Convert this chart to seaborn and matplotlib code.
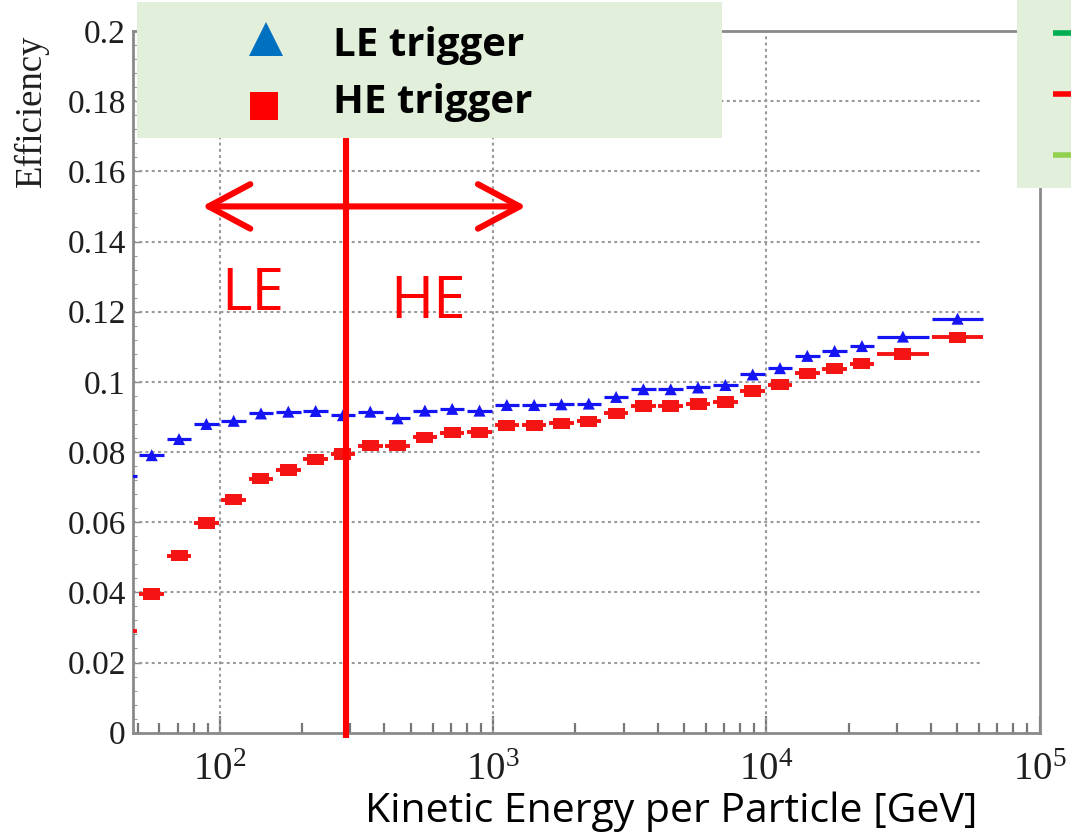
import numpy as np
import pandas as pd
import matplotlib
matplotlib.use("Agg")
import matplotlib.pyplot as plt
from matplotlib.lines import Line2D
from matplotlib.patches import Rectangle
from matplotlib.ticker import FixedLocator, FixedFormatter, LogLocator, NullFormatter, MultipleLocator
import seaborn as sns

# ---------------- data ----------------
# bin edges in log10(E / GeV)
log_edges = [1.6, 1.7, 1.8, 1.9, 2.0, 2.1, 2.2, 2.3, 2.4, 2.5, 2.6, 2.7, 2.8, 2.9,
             3.0, 3.1, 3.2, 3.3, 3.4, 3.5, 3.6, 3.7, 3.8, 3.9, 4.0, 4.1, 4.2, 4.3,
             4.4, 4.6, 4.8]
le_eff = [0.0733, 0.0791, 0.0837, 0.0880, 0.0889, 0.0910, 0.0915, 0.0917, 0.0905,
          0.0915, 0.0896, 0.0918, 0.0923, 0.0918, 0.0934, 0.0934, 0.0936, 0.0938,
          0.0957, 0.0979, 0.0979, 0.0984, 0.0991, 0.1021, 0.1039, 0.1074, 0.1088,
          0.1102, 0.1129, 0.1180]
he_eff = [0.0289, 0.0395, 0.0505, 0.0598, 0.0664, 0.0724, 0.0749, 0.0779, 0.0794,
          0.0818, 0.0818, 0.0842, 0.0855, 0.0856, 0.0876, 0.0876, 0.0882, 0.0887,
          0.0910, 0.0931, 0.0931, 0.0937, 0.0943, 0.0974, 0.0992, 0.1024, 0.1038,
          0.1052, 0.1079, 0.1127]
series_names = ["LE trigger", "HE trigger"]
x_tick_exps = [2, 3, 4, 5]
y_ticks = [0, 0.02, 0.04, 0.06, 0.08, 0.1, 0.12, 0.14, 0.16, 0.18, 0.2]
y_tick_labels = ["0", "0.02", "0.04", "0.06", "0.08", "0.1", "0.12", "0.14", "0.16", "0.18", "0.2"]
x_label = "Kinetic Energy per Particle [GeV]"
y_label = "Efficiency"
divider_energy = 290          # LE / HE boundary [GeV]
arrow_energies = [86, 1320]   # span of the double arrow [GeV]
arrow_eff = 0.15
region_labels = ["LE", "HE"]
x_min, x_max = 47.9, 1e5
grid_x_end = 6.1e4

# ---------------- frames ----------------
lo = np.array(log_edges[:-1])
hi = np.array(log_edges[1:])
frames = []
for name, vals in zip(series_names, [le_eff, he_eff]):
    frames.append(pd.DataFrame({
        "series": name,
        "E": 10 ** ((lo + hi) / 2),
        "E_lo": 10 ** lo,
        "E_hi": 10 ** hi,
        "eff": vals,
    }))
df = pd.concat(frames, ignore_index=True)

# ---------------- style ----------------
sns.set_theme(style="white")
plt.rcParams["font.family"] = ["Liberation Serif", "DejaVu Serif"]
plt.rcParams["mathtext.fontset"] = "custom"
plt.rcParams["mathtext.rm"] = "Liberation Serif"

W, H = 1071, 832
fig = plt.figure(figsize=(W / 100, H / 100), dpi=100)
fig.patch.set_facecolor("white")

def fx(px):
    return px / W

def fy(py):
    return 1 - py / H

ax = fig.add_axes([fx(132.7), fy(732.7), fx(1039.5) - fx(132.7), fy(31) - fy(732.7)])
ax.set_facecolor("white")
ax.set_xscale("log")
ax.set_xlim(x_min, x_max)
ax.set_ylim(0, 0.2)

# grid (dotted, ROOT-like)
grid_col = "#9a9a9a"
ax.hlines([v for v in y_ticks if 0 < v < 0.2], x_min, grid_x_end, colors=grid_col,
          linestyles=(0, (1.4, 1.6)), lw=1.5, zorder=1)
for e in x_tick_exps[:-1]:
    ax.axvline(10 ** e, color=grid_col, ls=(0, (1.4, 1.6)), lw=1.5, zorder=1)

# data: bin-width bars + markers
colors = {"LE trigger": "#1414f5", "HE trigger": "#f51414"}
rect_marker = [(-1.5, -1.0), (1.5, -1.0), (1.5, 1.0), (-1.5, 1.0), (-1.5, -1.0)]
for name, marker, s, lw in [("LE trigger", "^", 75, 2.3), ("HE trigger", rect_marker, 150, 2.8)]:
    d = df[df.series == name]
    ax.hlines(d["eff"], d["E_lo"] * 1.012, d["E_hi"] / 1.012, colors=colors[name], lw=lw, zorder=3)
    sns.scatterplot(data=d, x="E", y="eff", marker=marker, s=s, color=colors[name],
                    edgecolor="none", linewidth=0, ax=ax, legend=False, zorder=4)

ax.set_xlabel("")
ax.set_ylabel("")

# spines
for side in ["left", "bottom", "top", "right"]:
    ax.spines[side].set_color("#8a8a8a")
    ax.spines[side].set_linewidth(2.0)
    ax.spines[side].set_visible(True)

# ticks
ax.xaxis.set_major_locator(FixedLocator([10.0 ** e for e in x_tick_exps]))
ax.xaxis.set_major_formatter(FixedFormatter([r"$\mathregular{10^{%d}}$" % e for e in x_tick_exps]))
ax.xaxis.set_minor_locator(LogLocator(base=10, subs=np.arange(2, 10), numticks=20))
ax.xaxis.set_minor_formatter(NullFormatter())
ax.tick_params(axis="x", which="major", direction="in", length=12, width=1.6, color="#777777",
               labelsize=28, pad=14, labelcolor="#1e1e1e", top=False, bottom=True)
ax.tick_params(axis="x", which="minor", direction="in", length=7, width=1.6, color="#777777",
               top=False, bottom=True)
ax.yaxis.set_major_locator(FixedLocator(y_ticks))
ax.yaxis.set_major_formatter(FixedFormatter(y_tick_labels))
ax.yaxis.set_minor_locator(MultipleLocator(0.004))
ax.tick_params(axis="y", which="major", direction="in", length=6, width=1.0, color="#888888",
               labelsize=24, pad=5, labelcolor="#1e1e1e", left=True, right=False)
ax.tick_params(axis="y", which="minor", direction="in", length=3, width=0.8, color="#999999",
               left=True, right=False)

# red LE/HE divider and arrow
red = "#ff0000"
ax.plot([divider_energy, divider_energy], [-0.0015, 0.2], color=red, lw=4.4, zorder=6,
        clip_on=False, solid_capstyle="butt")
ax.annotate("", xy=(arrow_energies[0], arrow_eff), xytext=(arrow_energies[1], arrow_eff),
            arrowprops=dict(arrowstyle="<->,head_length=30,head_width=16", color=red, lw=4.4,
                            mutation_scale=1, shrinkA=0, shrinkB=0, capstyle="round",
                            joinstyle="round"),
            zorder=6)

sans = ["Open Sans", "DejaVu Sans"]
fig.text(fx(221), fy(310), region_labels[0], color=red, fontsize=42, family=sans,
         ha="left", va="baseline")
fig.text(fx(390), fy(318), region_labels[1], color=red, fontsize=42, family=sans,
         ha="left", va="baseline")

# axis titles
fig.text(fx(31), fy(111), y_label, rotation=90, fontsize=26.5, ha="center", va="center",
         color="#1e1e1e", family=["Liberation Serif", "DejaVu Serif"])
fig.text(fx(365), fy(822), x_label, fontsize=29.5, family=sans, ha="left", va="baseline",
         color="black")

# legend box (left)
legend_bg = "#e2efda"
fig.add_artist(Rectangle((fx(137), fy(138)), fx(722) - fx(137), fy(2) - fy(138),
                         transform=fig.transFigure, facecolor=legend_bg, edgecolor="none",
                         zorder=10))
fig.add_artist(Line2D([fx(266)], [fy(39)], marker="^", markersize=24.5, color="#0070c0",
                      markeredgewidth=0, linestyle="none", transform=fig.transFigure, zorder=11))
fig.add_artist(Line2D([fx(264)], [fy(106)], marker="s", markersize=20, color="#ff0000",
                      markeredgewidth=0, linestyle="none", transform=fig.transFigure, zorder=11))
fig.text(fx(333), fy(56), series_names[0], fontsize=29, fontweight="bold", family=sans,
         ha="left", va="baseline", color="black", zorder=12)
fig.text(fx(333), fy(113), series_names[1], fontsize=29, fontweight="bold", family=sans,
         ha="left", va="baseline", color="black", zorder=12)

# legend box (right, cut off)
fig.add_artist(Rectangle((fx(1017), fy(188)), fx(1071) - fx(1017), fy(0) - fy(188),
                         transform=fig.transFigure, facecolor=legend_bg, edgecolor="none",
                         zorder=10))
for py, c in [(33, "#00b050"), (94, "#ff0000"), (155, "#92d050")]:
    fig.add_artist(Line2D([fx(1053), fx(1071)], [fy(py), fy(py)], color=c, lw=4,
                          solid_capstyle="butt", transform=fig.transFigure, zorder=11))

fig.savefig("out.png", dpi=100, facecolor="white")
